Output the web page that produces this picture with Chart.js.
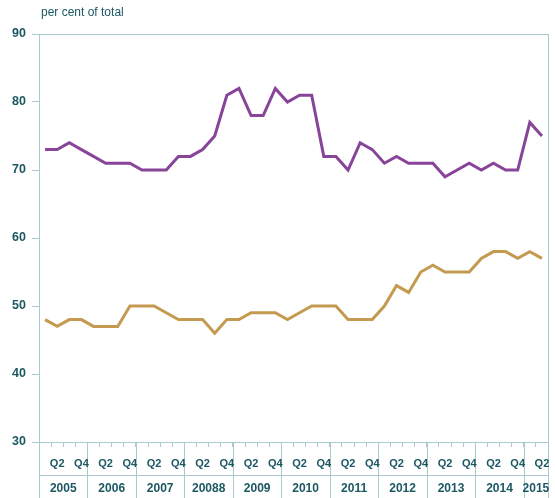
<!DOCTYPE html>
<html>
<head>
<meta charset="utf-8">
<script src="https://cdn.jsdelivr.net/npm/chart.js@4/dist/chart.umd.min.js"></script>
<style>
  body { margin: 0; background: #fff; }
  #wrap { width: 555px; height: 498px; }
</style>
</head>
<body>
<div id="wrap"><canvas id="chart" width="555" height="498"></canvas></div>
<script>
// year labels as printed on the original (typo included)
const years = ['2005', '2006', '2007', '20088', '2009', '2010', '2011', '2012', '2013', '2014', '2015'];
const quarters = ['Q1', 'Q2', 'Q3', 'Q4'];
const shownQuarters = ['Q2', 'Q4'];

// 2005 Q1 .. 2015 Q2, per cent of total
const purpleSeries = [73, 73, 74, 73, 72, 71, 71, 71, 70, 70, 70, 72, 72, 73, 75, 81, 82, 78, 78, 82, 80,
                      81, 81, 72, 72, 70, 74, 73, 71, 72, 71, 71, 71, 69, 70, 71, 70, 71, 70, 70, 77, 75];
const goldSeries = [48, 47, 48, 48, 47, 47, 47, 50, 50, 50, 49, 48, 48, 48, 46, 48, 48, 49, 49, 49, 48,
                    49, 50, 50, 50, 48, 48, 48, 50, 53, 52, 55, 56, 55, 55, 55, 57, 58, 58, 57, 58, 57];

const yTicks = [30, 40, 50, 60, 70, 80, 90];

const lineColor = '#a9c9d1';
const textColor = '#1c5862';
const labelFont = "'Liberation Sans', Arial, sans-serif";

// one label per quarter, only Q2/Q4 get shown
const labels = [];
years.forEach(() => {
    quarters.forEach(q => {
        if (labels.length < purpleSeries.length) labels.push(q);
    });
});

// year separators go behind the tick labels, year names on top
const frame = {
    id: 'frame',
    beforeDraw(chart) {
        const c = chart.ctx;
        const x = chart.scales.x;
        const area = chart.chartArea;
        if (!area) return;
        const bottom = chart.height;
        const half = (x.getPixelForValue(1) - x.getPixelForValue(0)) / 2;
        const rowY = area.bottom + 33;

        c.save();
        c.strokeStyle = lineColor;
        c.lineWidth = 1;

        // right border
        c.beginPath();
        c.moveTo(Math.round(area.right) + 0.5, area.top);
        c.lineTo(Math.round(area.right) + 0.5, bottom);
        c.stroke();

        // line between quarter and year rows
        c.beginPath();
        c.moveTo(area.left, rowY + 0.5);
        c.lineTo(area.right, rowY + 0.5);
        c.stroke();

        years.forEach((y, i) => {
            const x0 = Math.round(x.getPixelForValue(i * 4) - half) + 0.5;
            c.beginPath();
            c.moveTo(x0, area.bottom);
            c.lineTo(x0, bottom);
            c.stroke();
        });
        c.restore();
    },
    afterDraw(chart) {
        const c = chart.ctx;
        const x = chart.scales.x;
        const area = chart.chartArea;
        const half = (x.getPixelForValue(1) - x.getPixelForValue(0)) / 2;
        const rowY = area.bottom + 33;

        c.save();
        c.fillStyle = textColor;
        c.font = 'bold 12px ' + labelFont;
        c.textAlign = 'center';
        c.textBaseline = 'middle';
        years.forEach((y, i) => {
            const first = i * 4;
            const last = Math.min(first + 3, labels.length - 1);
            const x0 = x.getPixelForValue(first) - half;
            const x1 = x.getPixelForValue(last) + half;
            c.fillText(y, (x0 + x1) / 2, rowY + 14);
        });

        // axis caption
        c.textAlign = 'left';
        c.font = "12px 'Liberation Sans', Arial, sans-serif";
        c.fillText('per cent of total', 41, 13);
        c.restore();
    }
};

new Chart(document.getElementById('chart').getContext('2d'), {
    type: 'line',
    data: {
        labels: labels,
        datasets: [
            {
                data: purpleSeries,
                borderColor: '#874499',
                borderWidth: 3,
                pointRadius: 0,
                tension: 0
            },
            {
                data: goldSeries,
                borderColor: '#c39a4f',
                borderWidth: 3,
                pointRadius: 0,
                tension: 0
            }
        ]
    },
    options: {
        responsive: false,
        animation: false,
        layout: { padding: { top: 34, right: 7, left: 0, bottom: 0 } },
        plugins: {
            legend: { display: false },
            tooltip: { enabled: false }
        },
        scales: {
            x: {
                offset: true,
                grid: {
                    offset: true,
                    drawOnChartArea: false,
                    tickLength: 5,
                    color: lineColor
                },
                border: { color: lineColor },
                ticks: {
                    autoSkip: false,
                    maxRotation: 0,
                    padding: 10,
                    color: textColor,
                    font: { family: labelFont, size: 11, weight: 'bold' },
                    callback: function (value) {
                        const q = this.getLabelForValue(value);
                        return shownQuarters.includes(q) ? q : '';
                    }
                },
                afterFit: (scale) => {
                    scale.height = 56;
                    scale.paddingLeft = 0;
                    scale.paddingRight = 0;
                }
            },
            y: {
                min: yTicks[0],
                max: yTicks[yTicks.length - 1],
                afterBuildTicks: (scale) => { scale.ticks = yTicks.map(v => ({ value: v })); },
                grid: {
                    tickLength: 7,
                    tickColor: lineColor,
                    color: (ctx) => ctx.tick && ctx.tick.value === 90 ? lineColor : 'rgba(0,0,0,0)'
                },
                border: { color: lineColor },
                ticks: {
                    padding: 6,
                    color: textColor,
                    font: { family: labelFont, size: 12.5, weight: 'bold' }
                },
                afterFit: (scale) => { scale.width = 39; }
            }
        }
    },
    plugins: [frame]
});
</script>
</body>
</html>
